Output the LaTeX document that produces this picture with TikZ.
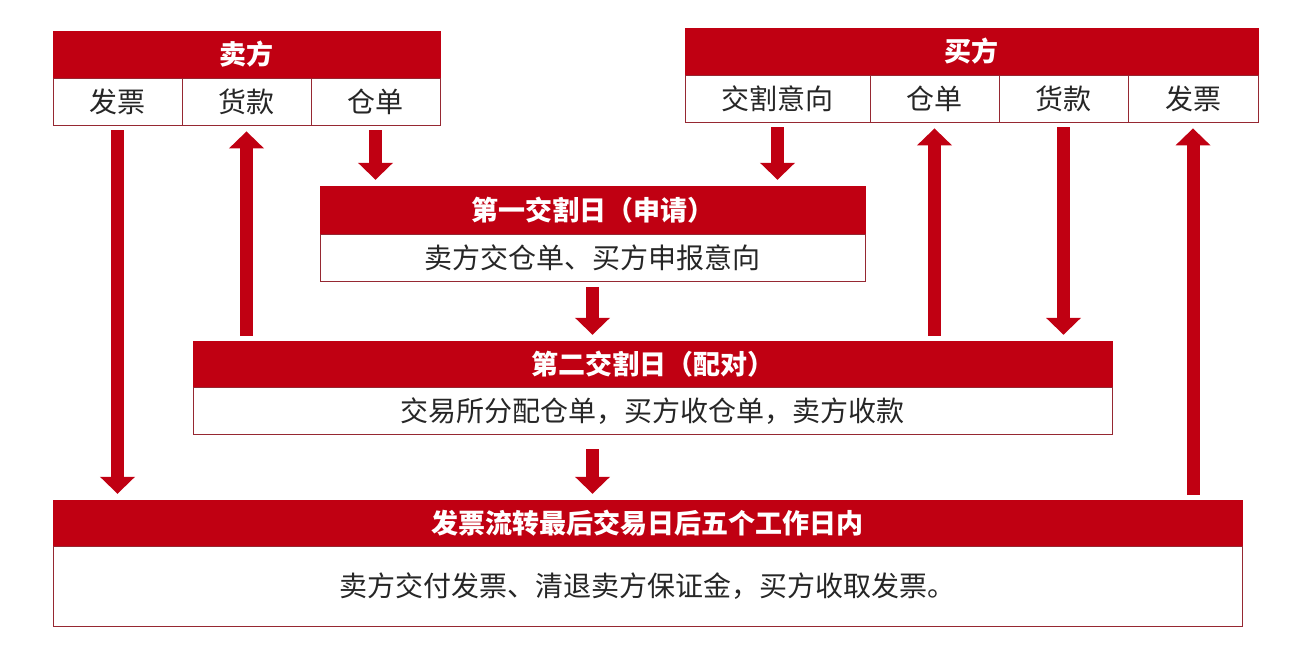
\documentclass[tikz,border=0pt]{standalone}
\usepackage{fontspec}
\setmainfont{Noto Sans CJK SC}
\definecolor{delivred}{RGB}{192, 0, 18}
\definecolor{celline}{RGB}{150, 40, 50}
\usetikzlibrary{arrows.meta, positioning, calc}

\begin{document}
\begin{tikzpicture}[x=1pt, y=-1pt,
  hdr/.style={draw=delivred, fill=delivred, text=white, inner sep=0pt, font=\bfseries\fontsize{27}{27}\selectfont},
  cell/.style={draw=celline, fill=white, line width=0.8pt, inner sep=0pt, text=black!85, font=\fontsize{28}{28}\selectfont},
  flow/.style={delivred, line width=13pt, -{Triangle[width=34pt, length=17pt]}, shorten <=5pt, shorten >=6pt}
]
  \useasboundingbox (0,0) rectangle (1294,660);
  \node[hdr, minimum width=387pt, minimum height=47pt] (seller) at (246.5, 54.5) {卖方};
  \node[cell, minimum width=129pt, minimum height=47pt] (s1) at (117.5, 101.5) {发票};
  \node[cell, minimum width=129pt, minimum height=47pt] (s2) at (246.5, 101.5) {货款};
  \node[cell, minimum width=129pt, minimum height=47pt] (s3) at (375.5, 101.5) {仓单};

  \node[hdr, minimum width=573pt, minimum height=47pt] (buyer) at (971.5, 51.5) {买方};
  \node[cell, minimum width=185pt, minimum height=47pt] (b1) at (777.5, 98.5) {交割意向};
  \node[cell, minimum width=129pt, minimum height=47pt] (b2) at (934.5, 98.5) {仓单};
  \node[cell, minimum width=129pt, minimum height=47pt] (b3) at (1063.5, 98.5) {货款};
  \node[cell, minimum width=130pt, minimum height=47pt] (b4) at (1193, 98.5) {发票};

  \node[hdr, minimum width=545pt, minimum height=48pt] (day1) at (592.5, 210) {第一交割日（申请）};
  \node[cell, minimum width=545pt, minimum height=47pt, below=0pt of day1] (day1b) {卖方交仓单、买方申报意向};

  \node[hdr, minimum width=919pt, minimum height=46pt] (day2) at (652.5, 364) {第二交割日（配对）};
  \node[cell, minimum width=919pt, minimum height=47pt, below=0pt of day2] (day2b) {交易所分配仓单，买方收仓单，卖方收款};

  \node[hdr, minimum width=1189pt, minimum height=46pt] (fin) at (647.5, 523) {发票流转最后交易日后五个工作日内};
  \node[cell, minimum width=1189pt, minimum height=80pt, below=0pt of fin] (finb) {卖方交付发票、清退卖方保证金，买方收取发票。};

  \draw[flow] (s1.south) -- (s1.south |- fin.north);
  \draw[flow] (s2.south |- day2.north) -- (s2.south);
  \draw[flow] (s3.south) -- (s3.south |- day1.north);
  \draw[flow] (b1.south) -- (b1.south |- day1.north);
  \draw[flow] (b2.south |- day2.north) -- (b2.south);
  \draw[flow] (b3.south) -- (b3.south |- day2.north);
  \draw[flow] (b4.south |- fin.north) -- (b4.south);
  \draw[flow] (day1b.south) -- (day1b.south |- day2.north);
  \draw[flow, shorten <=14pt] (day1b.south |- day2b.south) -- (day1b.south |- fin.north);
\end{tikzpicture}
\end{document}
